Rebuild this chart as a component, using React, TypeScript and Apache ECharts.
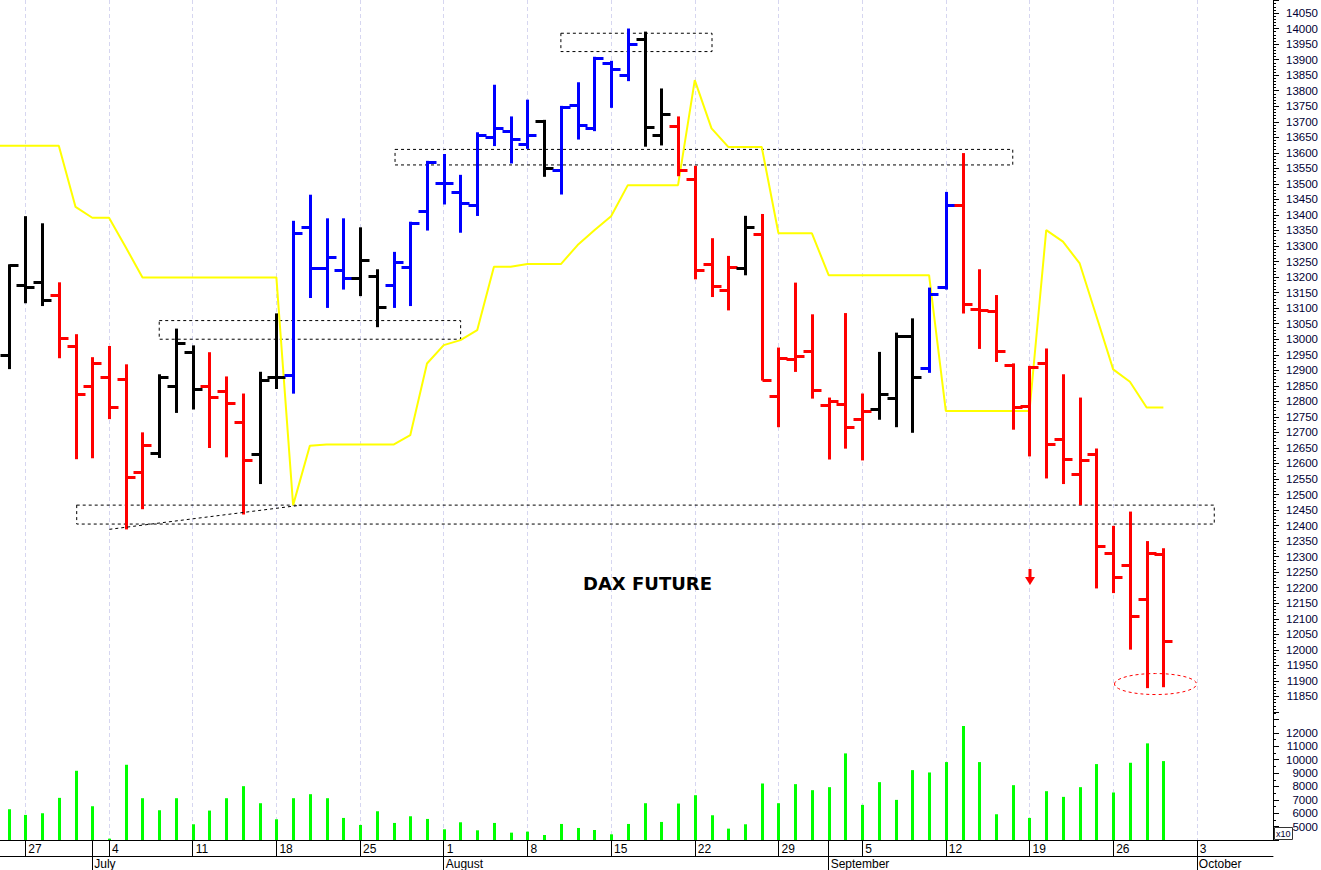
import React, { useEffect, useRef } from 'react';
import * as echarts from 'echarts';

// Trading days (index 0 = 24 Jun 2022)
const dates = [
  '2022-06-24',
  '2022-06-27', '2022-06-28', '2022-06-29', '2022-06-30', '2022-07-01',
  '2022-07-04', '2022-07-05', '2022-07-06', '2022-07-07', '2022-07-08',
  '2022-07-11', '2022-07-12', '2022-07-13', '2022-07-14', '2022-07-15',
  '2022-07-18', '2022-07-19', '2022-07-20', '2022-07-21', '2022-07-22',
  '2022-07-25', '2022-07-26', '2022-07-27', '2022-07-28', '2022-07-29',
  '2022-08-01', '2022-08-02', '2022-08-03', '2022-08-04', '2022-08-05',
  '2022-08-08', '2022-08-09', '2022-08-10', '2022-08-11', '2022-08-12',
  '2022-08-15', '2022-08-16', '2022-08-17', '2022-08-18', '2022-08-19',
  '2022-08-22', '2022-08-23', '2022-08-24', '2022-08-25', '2022-08-26',
  '2022-08-29', '2022-08-30', '2022-08-31', '2022-09-01', '2022-09-02',
  '2022-09-05', '2022-09-06', '2022-09-07', '2022-09-08', '2022-09-09',
  '2022-09-12', '2022-09-13', '2022-09-14', '2022-09-15', '2022-09-16',
  '2022-09-19', '2022-09-20', '2022-09-21', '2022-09-22', '2022-09-23',
  '2022-09-26', '2022-09-27', '2022-09-28', '2022-09-29', '2022-09-30',
  '2022-10-03',
];

const opens = [
  12949, 13174, 13184, 13142, 12978,
  12849, 12879, 12871, 12572, 12633,
  12849, 12959, 12849, 12833, 12732,
  12632, 12877, 12886, 13362, 13228,
  13222, 13198, 13203, 13176, 13231,
  13412, 13503, 13473, 13432, 13650,
  13670, 13627, 13702, 13544, 13754,
  13679, 13888, 13850, 13966, 13657,
  13686, 13515, 13242, 13160, 13228,
  13340, 12817, 12935, 12961, 12788,
  12793, 12743, 12775, 12812, 13010,
  12906, 13167, 13432, 13096, 13090,
  12916, 12784, 12922, 12678, 12565,
  12630, 12313, 12272, 12165, 12310,
];
const highs = [
  13238, 13393, 13370, 13180, 13013,
  12939, 12975, 12916, 12697, 12884,
  13031, 12977, 12955, 12877, 12822,
  12892, 13080, 13378, 13462, 13386,
  13386, 13357, 13222, 13278, 13375,
  13571, 13593, 13526, 13663, 13816,
  13714, 13768, 13703, 13748, 13824,
  13906, 13893, 13997, 13987, 13804,
  13714, 13555, 13322, 13265, 13394,
  13400, 12970, 13179, 13077, 12809,
  13081, 12822, 12956, 13018, 13064,
  13163, 13471, 13596, 13222, 13139,
  12919, 12911, 12967, 12884, 12809,
  12645, 12396, 12442, 12347, 12324,
];
const lows = [
  12907, 13119, 13110, 12942, 12617,
  12620, 12746, 12391, 12456, 12621,
  12766, 12777, 12653, 12623, 12439,
  12537, 12843, 12828, 13136, 13104,
  13163, 13142, 13042, 13104, 13110,
  13353, 13437, 13346, 13400, 13625,
  13569, 13616, 13526, 13469, 13646,
  13673, 13748, 13834, 13623, 13627,
  13528, 13196, 13139, 13096, 13209,
  12870, 12720, 12898, 12812, 12616,
  12651, 12613, 12744, 12720, 12702,
  12895, 13163, 13086, 12972, 12930,
  12712, 12626, 12555, 12537, 12469,
  12201, 12186, 12004, 11880, 11883,
];
const closes = [
  13238, 13168, 13126, 13003, 12823,
  12923, 12781, 12556, 12659, 12879,
  12988, 12839, 12814, 12796, 12610,
  12868, 12877, 13341, 13228, 13265,
  13198, 13255, 13104, 13247, 13375,
  13571, 13503, 13437, 13659, 13679,
  13646, 13659, 13550, 13746, 13689,
  13904, 13869, 13949, 13682, 13724,
  13544, 13222, 13171, 13231, 13360,
  12870, 12938, 12945, 12836, 12801,
  12716, 12768, 12825, 13010, 12877,
  13147, 13432, 13113, 13093, 12961,
  12782, 12909, 12664, 12613, 12610,
  12333, 12235, 12108, 12313, 12030,
];
// bar colour codes: k = black, r = red, b = blue
const barTone = [
  'k', 'k', 'k', 'r', 'r',
  'r', 'r', 'r', 'r', 'k',
  'k', 'k', 'r', 'r', 'r',
  'k', 'k', 'b', 'b', 'b',
  'b', 'k', 'k', 'b', 'b',
  'b', 'b', 'b', 'b', 'b',
  'b', 'b', 'k', 'b', 'b',
  'b', 'b', 'b', 'k', 'k',
  'r', 'r', 'r', 'r', 'k',
  'r', 'r', 'r', 'r', 'r',
  'r', 'r', 'k', 'k', 'k',
  'b', 'b', 'r', 'r', 'r',
  'r', 'r', 'r', 'r', 'r',
  'r', 'r', 'r', 'r', 'r',
];
const volumes = [
  6300, 5875, 6000, 7150, 9175,
  6525, 4100, 9625, 7125, 6225,
  7125, 5175, 6200, 7125, 8025,
  6750, 5550, 7125, 7425, 7125,
  5650, 5125, 6150, 5275, 5775,
  5575, 4800, 5325, 4725, 5275,
  4550, 4625, 4375, 5200, 4900,
  4750, 4425, 5200, 6750, 5350,
  6725, 7350, 5850, 4850, 5175,
  8225, 6750, 8175, 7725, 7950,
  10475, 6625, 8325, 7000, 9225,
  9050, 9825, 12525, 9825, 5925,
  8100, 5650, 7650, 7225, 7950,
  9675, 7550, 9775, 11225, 9900,
];
// yellow stop line; the first value belongs to 23 Jun (just left of the frame)
const stopLinePrior = 13623;
const stopLine = [
  13623, 13623, 13623, 13623, 13426,
  13391, 13391, 13296, 13199, 13199,
  13199, 13199, 13199, 13199, 13199,
  13199, 13199, 12466, 12657, 12661,
  12661, 12661, 12661, 12661, 12691,
  12922, 12981, 12997, 13029, 13233,
  13233, 13242, 13242, 13242, 13303,
  13351, 13396, 13496, 13496, 13496,
  13496, 13834, 13679, 13619, 13619,
  13619, 13341, 13341, 13341, 13206,
  13206, 13206, 13206, 13206, 13206,
  13206, 12769, 12769, 12769, 12769,
  12769, 12769, 13351, 13314, 13244,
  13074, 12903, 12863, 12780, 12780,
];

const mondayIdx = [1, 6, 11, 16, 21, 26, 31, 36, 41, 46, 51, 56, 61, 66, 71];
const monthStartIdx = [5, 26, 49, 71];
const monthNames = ['July', 'August', 'September', 'October'];

// annotation zones in data space: [x1, x2, upper price, lower price]
const zoneBoxes = [
  [33.0, 42.03, 13985, 13926],
  [23.09, 60.0, 13611, 13561],
  [9.0, 27.01, 13060, 13000],
  [4.07, 72.04, 12466, 12405],
];
const trendLine = [[6.02, 12388], [17.51, 12466]];
const lowMarker = [68.53, 11890];
const arrowMarker = [61.03, 12260, 12209];

const XMIN = -0.514;
const XMAX = 75.55;
const toneColor: Record<string, string> = { k: '#000000', r: '#ff0000', b: '#0000ff' };
const labelFont = 'Liberation Sans, Arial, sans-serif';
const splitStyle = { color: '#d6d6f0', type: [4, 3] as any, width: 1 };

export default function App() {
  const ref = useRef<HTMLDivElement>(null);
  useEffect(() => {
    if (!ref.current) return;
    const chart = echarts.init(ref.current, null, { renderer: 'svg' });
    const ohlc = opens.map((o, i) => [i, o, highs[i], lows[i], closes[i]]);
    const vol = volumes.map((v, i) => [i, v]);
    const stop = [[-1, stopLinePrior], ...stopLine.map((v, i) => [i, v])];

    const option: any = {
      animation: false,
      backgroundColor: '#ffffff',
      grid: [
        { left: 0, right: 48, top: 0, height: 712 },
        { left: 0, right: 48, top: 712, height: 128 },
      ],
      xAxis: [
        {
          type: 'value', gridIndex: 0, position: 'bottom', min: XMIN, max: XMAX,
          axisLine: { show: false },
          axisTick: { show: false, customValues: mondayIdx },
          axisLabel: { show: false, customValues: mondayIdx },
          splitLine: { show: true, lineStyle: splitStyle },
        },
        {
          type: 'value', gridIndex: 1, position: 'bottom', min: XMIN, max: XMAX,
          axisLine: { show: true, onZero: false, lineStyle: { color: '#000', width: 1 } },
          axisTick: { show: true, customValues: mondayIdx, length: 16, lineStyle: { color: '#000', width: 1 } },
          axisLabel: {
            customValues: mondayIdx,
            formatter: (v: number) => String(Number(dates[Math.round(v)].slice(8))),
            align: 'left', padding: [0, 0, 0, 3], margin: 3,
            color: '#000', fontSize: 12, fontFamily: labelFont,
          },
          splitLine: { show: true, lineStyle: splitStyle },
        },
        {
          type: 'value', gridIndex: 1, position: 'bottom', offset: 0, min: XMIN, max: XMAX,
          axisLine: { show: false, onZero: false },
          axisTick: { show: true, customValues: monthStartIdx, length: 30, lineStyle: { color: '#000', width: 1 } },
          axisLabel: {
            customValues: monthStartIdx,
            formatter: (v: number) => monthNames[monthStartIdx.indexOf(Math.round(v))] || '',
            align: 'left', padding: [0, 0, 0, 2], margin: 18,
            color: '#000', fontSize: 12, fontFamily: labelFont,
          },
          splitLine: { show: false },
        },
        {
          type: 'value', gridIndex: 1, position: 'bottom', offset: 16, min: XMIN, max: XMAX,
          axisLine: { show: true, onZero: false, lineStyle: { color: '#000', width: 1 } },
          axisTick: { show: false },
          axisLabel: { show: false },
          splitLine: { show: false },
        },
      ],
      yAxis: [
        {
          type: 'value', gridIndex: 0, position: 'right', min: 11800, max: 14092, interval: 50,
          axisLine: { show: true, onZero: false, lineStyle: { color: '#000', width: 1 } },
          axisTick: { show: true, length: 6, lineStyle: { color: '#000' } },
          minorTick: { show: true, splitNumber: 5, length: 3, lineStyle: { color: '#000' } },
          axisLabel: {
            formatter: (v: number) => (v % 50 === 0 && v >= 11850 && v <= 14050 ? String(v) : ''),
            align: 'right', margin: 45, color: '#000033', fontSize: 11.5, fontFamily: labelFont,
          },
          splitLine: { show: false },
        },
        {
          type: 'value', gridIndex: 1, position: 'right', min: 4000, max: 13570, interval: 1000,
          axisLine: { show: true, onZero: false, lineStyle: { color: '#000', width: 1 } },
          axisTick: { show: true, length: 6, lineStyle: { color: '#000' } },
          minorTick: { show: true, splitNumber: 2, length: 3, lineStyle: { color: '#000' } },
          axisLabel: {
            formatter: (v: number) => (v >= 5000 && v <= 12000 ? String(v) : ''),
            align: 'right', margin: 45, color: '#000033', fontSize: 11.5, fontFamily: labelFont,
          },
          splitLine: { show: false },
        },
      ],
      series: [
        {
          name: 'stop', type: 'line', xAxisIndex: 0, yAxisIndex: 0, data: stop,
          showSymbol: false, symbol: 'none', z: 2, clip: true,
          lineStyle: { color: '#ffff00', width: 2 },
          markArea: {
            silent: true,
            label: { show: false },
            itemStyle: { color: 'rgba(0,0,0,0)', borderColor: '#000', borderWidth: 1, borderType: [3, 3] },
            data: zoneBoxes.map((b) => [{ coord: [b[0], b[2]] }, { coord: [b[1], b[3]] }]),
          },
          markLine: {
            silent: true,
            symbol: ['none', 'none'],
            label: { show: false },
            lineStyle: { color: '#000', width: 1, type: [3, 3] },
            data: [[{ coord: trendLine[0] }, { coord: trendLine[1] }]],
          },
        },
        {
          name: 'ohlc', type: 'custom', xAxisIndex: 0, yAxisIndex: 0, data: ohlc, z: 4,
          encode: { x: 0, y: [1, 2, 3, 4] },
          renderItem: (params: any, api: any) => {
            const i = api.value(0);
            const o = api.coord([i, api.value(1)]);
            const h = api.coord([i, api.value(2)]);
            const l = api.coord([i, api.value(3)]);
            const c = api.coord([i, api.value(4)]);
            const color = toneColor[barTone[params.dataIndex]];
            const x = Math.round(h[0]) + 0.5;
            const st = { stroke: color, lineWidth: 3 };
            const oy = Math.round(o[1]) + 0.5;
            const cy = Math.round(c[1]) + 0.5;
            return {
              type: 'group',
              children: [
                { type: 'line', shape: { x1: x, y1: h[1] - 1, x2: x, y2: l[1] + 1 }, style: st },
                { type: 'line', shape: { x1: x - 9, y1: oy, x2: x, y2: oy }, style: st },
                { type: 'line', shape: { x1: x, y1: cy, x2: x + 9, y2: cy }, style: st },
              ],
            };
          },
        },
        {
          name: 'volume', type: 'custom', xAxisIndex: 1, yAxisIndex: 1, data: vol, z: 3,
          encode: { x: 0, y: 1 },
          renderItem: (params: any, api: any) => {
            const i = api.value(0);
            const top = api.coord([i, api.value(1)]);
            const base = api.coord([i, 4000]);
            const x = Math.round(top[0]) - 1;
            return {
              type: 'rect',
              shape: { x, y: top[1], width: 3, height: base[1] - top[1] },
              style: { fill: '#00ff00' },
            };
          },
        },
      ],
    };
    chart.setOption(option);

    const px = (p: number[]) => chart.convertToPixel({ gridIndex: 0 }, p) as number[];
    const ell = px(lowMarker);
    const aTop = px([arrowMarker[0], arrowMarker[1]]);
    const aTip = px([arrowMarker[0], arrowMarker[2]]);
    const ax = Math.round(aTop[0]);
    const headY = aTip[1] - 8;
    chart.setOption({
      graphic: [
        {
          type: 'text', left: 583, top: 574, z: 10,
          style: { text: 'DAX FUTURE', fill: '#000', fontSize: 18, fontWeight: 'bold', fontFamily: 'DejaVu Sans, Verdana, sans-serif' },
        },
        {
          type: 'ellipse', z: 10,
          shape: { cx: ell[0], cy: ell[1], rx: 41, ry: 10.5 },
          style: { fill: 'none', stroke: '#ff0000', lineWidth: 1, lineDash: [3, 3] },
        },
        {
          type: 'polygon', z: 10,
          shape: {
            points: [
              [ax - 1.5, aTop[1]], [ax + 1.5, aTop[1]], [ax + 1.5, headY], [ax + 5, headY],
              [ax, aTip[1]], [ax - 5, headY], [ax - 1.5, headY],
            ],
          },
          style: { fill: '#ff0000' },
        },
        {
          type: 'rect', left: 1274, top: 827, z: 1,
          shape: { x: 0, y: 0, width: 18, height: 12 },
          style: { fill: '#fff', stroke: '#333', lineWidth: 1 },
        },
        {
          type: 'text', left: 1276, top: 829, z: 2,
          style: { text: 'x10', fill: '#000033', fontSize: 9, fontFamily: labelFont },
        },
      ],
    });
    return () => chart.dispose();
  }, []);
  return <div ref={ref} style={{ position: 'fixed', left: 0, top: 0, width: 1321, height: 870 }} />;
}
